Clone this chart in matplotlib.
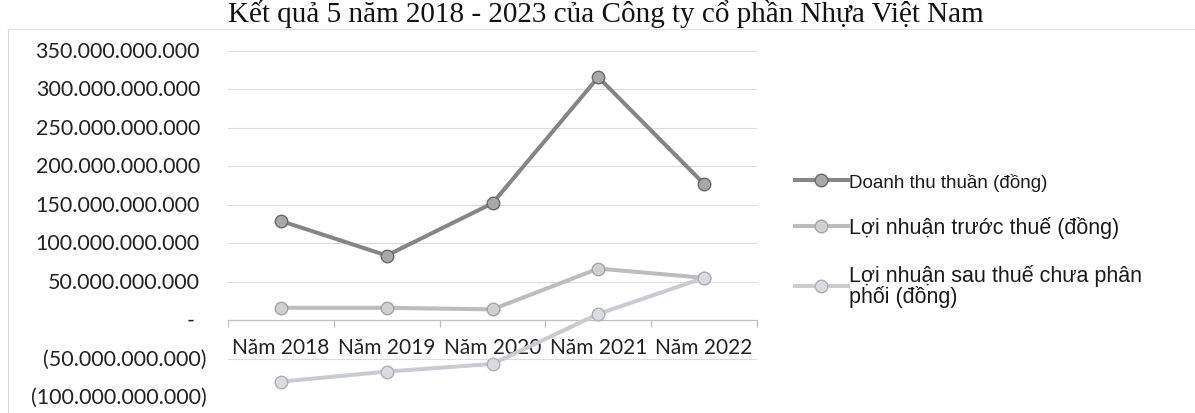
import numpy as np
import matplotlib
matplotlib.use("Agg")
import matplotlib.pyplot as plt
import matplotlib.transforms as mtransforms

# Dữ liệu (đồng)
years = ["Năm 2018", "Năm 2019", "Năm 2020", "Năm 2021", "Năm 2022"]
doanh_thu = [129e9, 84e9, 152e9, 316e9, 177e9]
ln_truoc_thue = [16e9, 16e9, 14e9, 67e9, 55e9]
ln_sau_thue = [-80e9, -67e9, -57e9, 8e9, 55e9]
series_names = ["Doanh thu thuần (đồng)",
                "Lợi nhuận trước thuế (đồng)",
                "Lợi nhuận sau thuế chưa phân\nphối (đồng)"]
y_ticks = [-100e9, -50e9, 0, 50e9, 100e9, 150e9, 200e9, 250e9, 300e9, 350e9]


def fmt_vnd(v):
    if v == 0:
        return "-"
    s = f"{abs(v):,.0f}".replace(",", ".")
    return f"({s})" if v < 0 else s


fig = plt.figure(figsize=(11.95, 4.14), dpi=100)
ax = fig.add_axes([228 / 1195, 1 - 398 / 414, 529 / 1195, 346 / 414])

x = np.arange(len(years))
styles = [
    dict(color="#858585", mfc="#a8a8a8", mec="#686868"),
    dict(color="#bcbcbc", mfc="#d0d0d0", mec="#a4a4a4"),
    dict(color="#c8cbd1", mfc="#d9dbe0", mec="#acafb6"),
]
for vals, name, st in zip([doanh_thu, ln_truoc_thue, ln_sau_thue], series_names, styles):
    ax.plot(x, vals, color=st["color"], lw=2.9, marker="o", markersize=9,
            markerfacecolor=st["mfc"], markeredgecolor=st["mec"], markeredgewidth=1.0,
            label=name, zorder=3)

ax.set_xlim(-0.5, len(years) - 0.5)
ax.set_ylim(y_ticks[0], y_ticks[-1])

# lưới ngang
for v in y_ticks:
    if v != 0:
        ax.axhline(v, color="#dcdcdc", lw=0.8, zorder=1)

# trục hoành ở mức 0
for s in ["top", "right", "left"]:
    ax.spines[s].set_visible(False)
ax.spines["bottom"].set_position(("data", 0))
ax.spines["bottom"].set_color("#bfbfbf")
ax.spines["bottom"].set_linewidth(0.9)
ax.set_xticks(x)
ax.set_xticklabels(years, fontsize=15, family="Lato", color="#222222")
ax.set_xticks(np.arange(-0.5, len(years), 1.0), minor=True)
ax.tick_params(axis="x", which="major", length=0, pad=12)
ax.tick_params(axis="x", which="minor", length=5, color="#bfbfbf", width=0.9)
ax.set_yticks([])

# nhãn trục tung kiểu kế toán: dấu ")" lệch sang phải
base = mtransforms.blended_transform_factory(ax.transAxes, ax.transData)
for v in y_ticks:
    if v < 0:
        dx = -21
    elif v == 0:
        dx = -33
    else:
        dx = -28
    tr = base + mtransforms.ScaledTranslation(dx / 100, 0, fig.dpi_scale_trans)
    ax.text(0, v, fmt_vnd(v), transform=tr, ha="right", va="center",
            fontsize=15.5, family="Lato", color="#222222")

leg = ax.legend(loc="upper left", bbox_to_anchor=(795 / 1195, 1 - 174 / 414),
                bbox_transform=fig.transFigure, frameon=False,
                prop={"family": "Liberation Sans", "size": 14},
                handlelength=2.7, handletextpad=0.1, labelspacing=1.3,
                borderpad=0, borderaxespad=0)
for i, t in enumerate(leg.get_texts()):
    t.set_color("#1a1a1a")
    t.set_fontsize(13.5 if i == 0 else 15.5)
    if i == 2:
        t.set_linespacing(0.95)

# tiêu đề (bị cắt ở mép trên trong bản gốc)
fig.text(228 / 1195, 1 - 22 / 414,
         "Kết quả 5 năm 2018 - 2023 của Công ty cổ phần Nhựa Việt Nam",
         fontsize=21, family="Liberation Serif", color="#111111", va="baseline")

# viền vùng biểu đồ
fig.add_artist(plt.Line2D([8 / 1195, 8 / 1195], [0, 1 - 30 / 414],
                          transform=fig.transFigure, color="#d6d6d6", lw=0.8))
fig.add_artist(plt.Line2D([8 / 1195, 1], [1 - 30 / 414, 1 - 30 / 414],
                          transform=fig.transFigure, color="#e0e0e0", lw=0.8))

fig.savefig("out.png", dpi=100)
